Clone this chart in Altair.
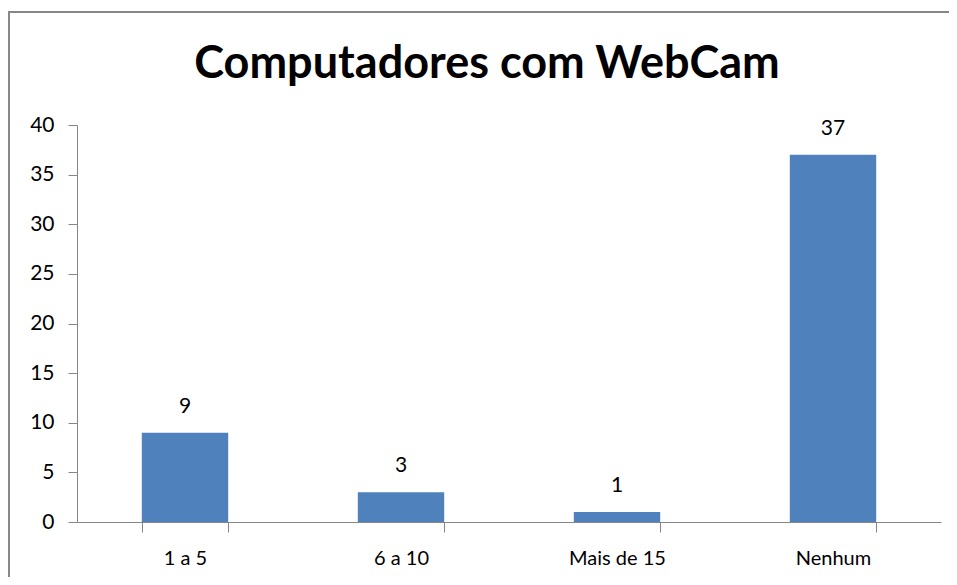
import altair as alt
import pandas as pd

categories = ["1 a 5", "6 a 10", "Mais de 15", "Nenhum"]
values = [9, 3, 1, 37]
title_text = "Computadores com WebCam"

df = pd.DataFrame({"cat": categories, "val": values})

FONT = "Lato"
W, H = 864, 397

x_enc = alt.X("cat:N", sort=categories, title=None,
              scale=alt.Scale(paddingInner=0.6, paddingOuter=0.3),
              axis=alt.Axis(labelAngle=0, tickBand="extent", tickSize=10,
                            labelPadding=16, labelFontSize=20, labelFont=FONT,
                            labelColor="#000000", domainColor="#868686",
                            tickColor="#868686", grid=False))
y_enc = alt.Y("val:Q", title=None,
              scale=alt.Scale(domain=[0, 40], nice=False),
              axis=alt.Axis(values=list(range(0, 41, 5)), tickSize=9,
                            labelPadding=14, labelFontSize=21, labelFont=FONT,
                            labelColor="#000000", domainColor="#868686",
                            tickColor="#868686", grid=False))

bars = alt.Chart(df).mark_bar(color="#4F81BD").encode(x=x_enc, y=y_enc)

labels = alt.Chart(df).mark_text(dy=-20, baseline="alphabetic", fontSize=21,
                                 font=FONT, color="#000000").encode(
    x=alt.X("cat:N", sort=categories), y="val:Q", text="val:Q")

title_df = pd.DataFrame({"t": [title_text]})
title_mark = alt.Chart(title_df).mark_text(
    font=FONT, fontSize=45, fontWeight="bold", color="#000000",
    align="center", baseline="alphabetic").encode(
    text="t:N", x=alt.value(410), y=alt.value(-47))

border_left = alt.Chart(title_df).mark_rule(color="#878787", strokeWidth=2).encode(
    x=alt.value(-68), y=alt.value(-113), y2=alt.value(H + 60))
border_top = alt.Chart(title_df).mark_rule(color="#878787", strokeWidth=2).encode(
    x=alt.value(-69), x2=alt.value(W + 40), y=alt.value(-113))

chart = alt.layer(border_left, border_top, bars, labels, title_mark).properties(
    width=W, height=H,
    background="white",
    autosize=alt.AutoSizeParams(type="none"),
    padding={"left": 69, "top": 117, "right": 8, "bottom": 55},
).configure_view(strokeWidth=0, stroke="transparent")

chart.save("out.html", embed_options={"renderer": "svg", "actions": False})
